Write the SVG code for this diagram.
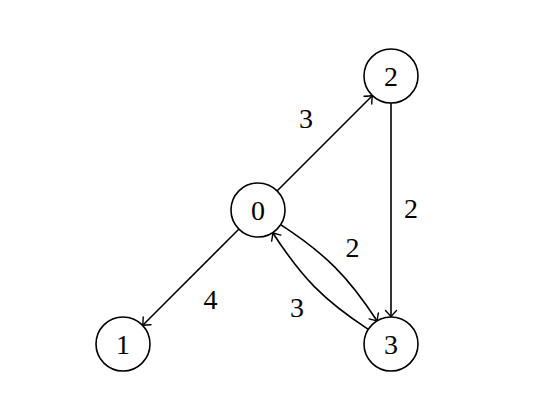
<svg xmlns="http://www.w3.org/2000/svg" width="558" height="420" viewBox="0 0 558 420">
  <style>
    .node circle { fill: #ffffff; stroke: #000000; stroke-width: 1.6; }
    .lbl { font-family: "Liberation Serif", "DejaVu Serif", serif; font-size: 28px; fill: #000000; text-anchor: middle; }
    .edge { fill: none; stroke: #000000; stroke-width: 1.6; marker-end: url(#arr); }
  </style>
  <defs>
    <marker id="arr" markerUnits="userSpaceOnUse" markerWidth="16" markerHeight="16" viewBox="-10 -8 12 16" refX="0" refY="0" orient="auto">
      <path d="M -6.5,-5.5 Q -2,-1.2 0,0 Q -2,1.2 -6.5,5.5" fill="none" stroke="#000000" stroke-width="1.4" stroke-linecap="round"/>
    </marker>
  </defs>
  <rect width="558" height="420" fill="#ffffff"/>
  <g id="connectors">
    <path class="edge" d="M 277,191 L 372.5,95.5"/>
    <path class="edge" d="M 238.5,229.5 L 142.5,325.5"/>
    <path class="edge" d="M 391,103 L 391,317"/>
    <path class="edge" d="M 280.6,224.7 C 325.5,253.9 348.1,276.4 377.3,321.3"/>
    <path class="edge" d="M 368.3,329.3 C 323.4,300.1 301.9,277.6 272.7,232.7"/>
    <text class="lbl" x="306" y="127.5">3</text>
    <text class="lbl" x="411" y="218">2</text>
    <text class="lbl" x="210.5" y="309">4</text>
    <text class="lbl" x="352.5" y="257">2</text>
    <text class="lbl" x="297" y="317">3</text>
  </g>
  <g id="node0" class="node">
    <circle cx="258" cy="210" r="27"/>
    <text class="lbl" x="258" y="219.5">0</text>
  </g>
  <g id="node1" class="node">
    <circle cx="123" cy="344" r="27"/>
    <text class="lbl" x="123" y="353.5">1</text>
  </g>
  <g id="node2" class="node">
    <circle cx="391" cy="76" r="27"/>
    <text class="lbl" x="391" y="85.5">2</text>
  </g>
  <g id="node3" class="node">
    <circle cx="391" cy="344" r="27"/>
    <text class="lbl" x="391" y="353.5">3</text>
  </g>
</svg>
